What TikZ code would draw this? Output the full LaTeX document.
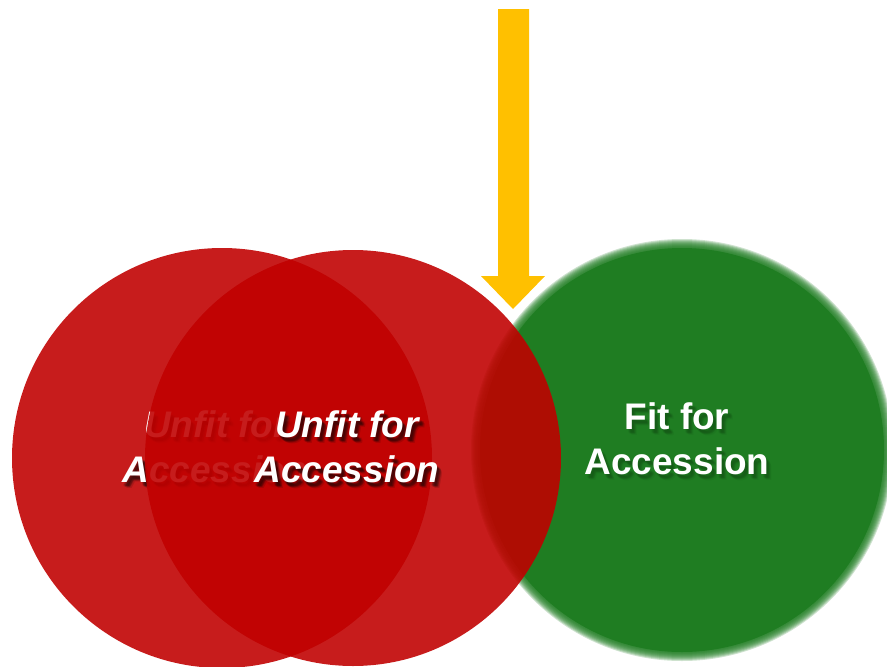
\documentclass[tikz,border=0pt]{standalone}
\usepackage{fontspec}
\setmainfont{Liberation Sans}
\definecolor{deepred}{RGB}{192,0,0}
\definecolor{fitgreen}{RGB}{31,125,34}
\definecolor{arrowgold}{RGB}{255,192,0}
\tikzset{
  lbl/.style={anchor=base, inner sep=0pt, text=white},
  redset/.style={fill=deepred, fill opacity=0.89},
}
% one line of white text with a soft cast shadow behind it
% #1 name, #2 x, #3 y, #4 extra font, #5 shadow colour, #6 shadow opacity, #7 text
\newcommand\castline[7]{%
  \foreach \dx/\dy in {2/3,3/4,4/5,3/5,4/4,2/4,5/6} {%
    \node[lbl, font=\bfseries#4\fontsize{37}{44}\selectfont, text=#5, text opacity=#6]
      at (#2+\dx,#3+\dy) {#7};}
  \node[lbl, font=\bfseries#4\fontsize{37}{44}\selectfont] (#1) at (#2,#3) {#7};
}
\begin{document}
\begin{tikzpicture}[x=1pt,y=-1pt]
\useasboundingbox (0,0) rectangle (887,667);
\clip (0,0) rectangle (887,667);

% green circle with soft edge
\foreach \r in {211,210,...,202} {
  \fill[fitgreen, fill opacity=0.22] (682,450) circle[radius=\r];
}
\fill[fitgreen] (682,450) circle[radius=202];
\castline{fitA}{677}{429}{}{black!70!fitgreen}{0.06}{Fit for}
\castline{fitB}{677}{474}{}{black!70!fitgreen}{0.06}{Accession}

% left red circle and its label
\fill[redset] (222,458) circle[radius=210];
\castline{unfitLA}{216}{437}{\itshape}{black}{0.13}{Unfit for}
\castline{unfitLB}{215}{482}{\itshape}{black}{0.13}{Accession}

% middle red circle and its label
\fill[redset] (353,458) circle[radius=208];
\castline{unfitMA}{347}{437}{\itshape}{black}{0.13}{Unfit for}
\castline{unfitMB}{347}{482}{\itshape}{black}{0.13}{Accession}

% arrow coming down from the top
\fill[arrowgold] (498,9) -- (529,9) -- (529,276) -- (545,276) -- (513,309)
  -- (481,276) -- (498,276) -- cycle;
\end{tikzpicture}
\end{document}
